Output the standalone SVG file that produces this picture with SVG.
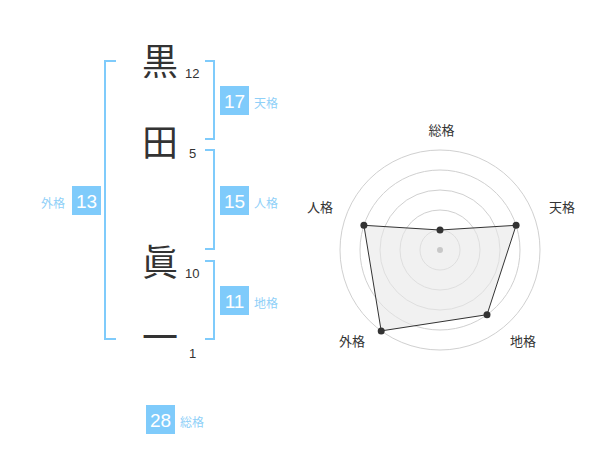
<svg xmlns="http://www.w3.org/2000/svg" width="600" height="470" viewBox="0 0 600 470">
<style>
.kanji{font-family:"Noto Sans CJK JP","Noto Sans CJK SC",sans-serif;font-size:36px;fill:#333;text-anchor:middle}
.num{font-family:"Liberation Sans",Arial,sans-serif;font-size:13px;fill:#333}
.box{fill:#7fcbfb}
.boxnum{font-family:"Liberation Sans",Arial,sans-serif;font-size:19px;fill:#fff;text-anchor:middle}
.lbl{font-family:"Noto Sans CJK JP","Noto Sans CJK SC",sans-serif;font-size:12px;fill:#8fd0f8}
.br{fill:none;stroke:#7fcbfb;stroke-width:2}
.ring{fill:none;stroke:#d0d0d0;stroke-width:1}
.rl{font-family:"Noto Sans CJK JP","Noto Sans CJK SC",sans-serif;font-size:13px;fill:#333;text-anchor:middle}
.pt{fill:#333}
</style>
<g id="connectors">
<path class="br" d="M116,61 H105 V339 H116"/>
<path class="br" d="M205,61 H214 V139 H205"/>
<path class="br" d="M205,150 H214 V249 H205"/>
<path class="br" d="M205,261 H214 V339 H205"/>
</g>
<g id="char1"><text class="kanji" x="160" y="75">黒</text><text class="num" x="185" y="78">12</text></g>
<g id="char2"><text class="kanji" x="160" y="156">田</text><text class="num" x="189" y="158">5</text></g>
<g id="char3"><text class="kanji" x="160" y="276">眞</text><text class="num" x="185" y="278">10</text></g>
<g id="char4"><text class="kanji" x="160" y="351">一</text><text class="num" x="189" y="358">1</text></g>
<g id="tenkaku"><rect class="box" x="220" y="86" width="29" height="29"/><text class="boxnum" x="234.5" y="107.5">17</text><text class="lbl" x="254" y="108">天格</text></g>
<g id="jinkaku"><rect class="box" x="220" y="186" width="29" height="29"/><text class="boxnum" x="234.5" y="207.5">15</text><text class="lbl" x="254" y="208">人格</text></g>
<g id="gaikaku"><rect class="box" x="72" y="186" width="29" height="29"/><text class="boxnum" x="86.5" y="207.5">13</text><text class="lbl" x="41" y="208">外格</text></g>
<g id="chikaku"><rect class="box" x="220" y="286" width="29" height="29"/><text class="boxnum" x="234.5" y="307.5">11</text><text class="lbl" x="254" y="308">地格</text></g>
<g id="soukaku"><rect class="box" x="146" y="405" width="29" height="29"/><text class="boxnum" x="160.5" y="426.5">28</text><text class="lbl" x="180" y="427">総格</text></g>
<g id="radar">
<circle class="ring" cx="440" cy="250" r="20"/>
<circle class="ring" cx="440" cy="250" r="40"/>
<circle class="ring" cx="440" cy="250" r="60"/>
<circle class="ring" cx="440" cy="250" r="80"/>
<circle class="ring" cx="440" cy="250" r="100"/>
<polygon points="440,230 516.1,225.3 487,314.7 381.2,330.9 363.9,225.3" fill="#e8e8e8" fill-opacity="0.6" stroke="#333" stroke-width="1"/>
<circle cx="440" cy="250" r="3" fill="#c8c8c8"/>
<circle class="pt" cx="440" cy="230" r="3.5"/>
<circle class="pt" cx="516.1" cy="225.3" r="3.5"/>
<circle class="pt" cx="487" cy="314.7" r="3.5"/>
<circle class="pt" cx="381.2" cy="330.9" r="3.5"/>
<circle class="pt" cx="363.9" cy="225.3" r="3.5"/>
<text class="rl" x="441.5" y="135">総格</text>
<text class="rl" x="562" y="212">天格</text>
<text class="rl" x="320" y="212">人格</text>
<text class="rl" x="352" y="346">外格</text>
<text class="rl" x="523" y="346">地格</text>
</g>
</svg>
